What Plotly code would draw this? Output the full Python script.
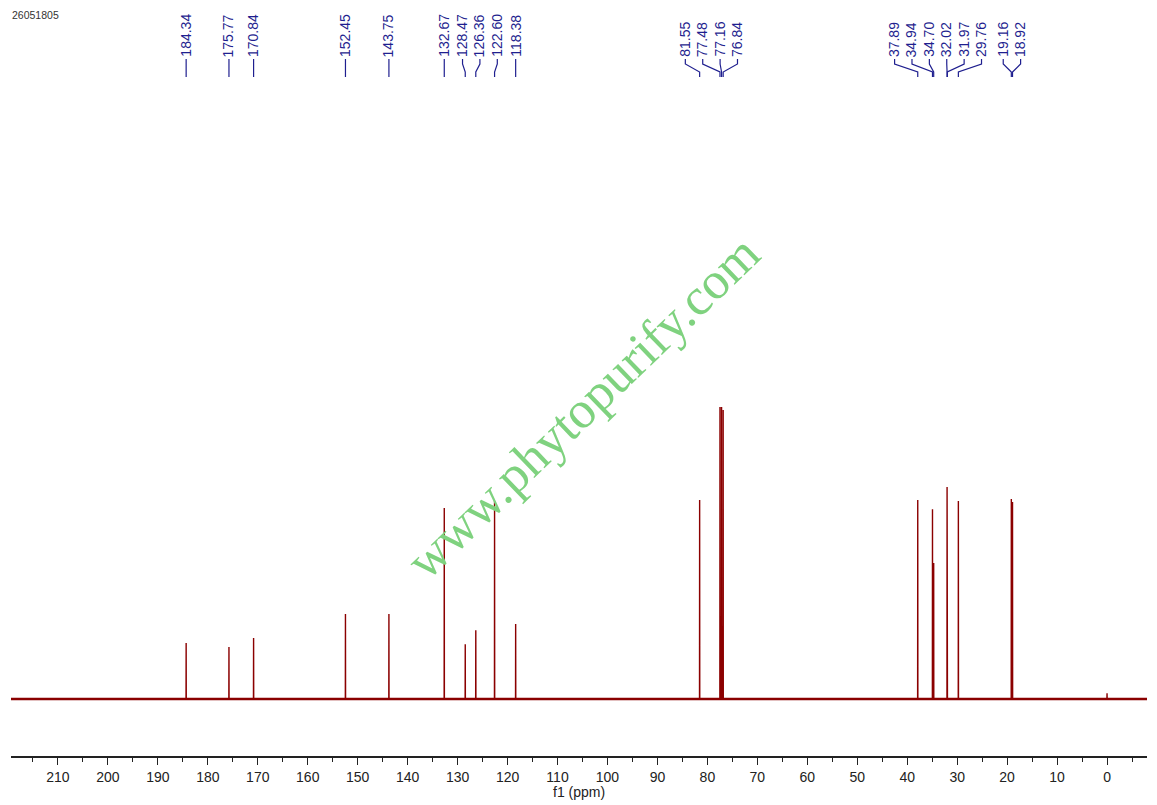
import plotly.graph_objects as go

# ---- data ----
peak_ppm = [184.34, 175.77, 170.84, 152.45, 143.75, 132.67, 128.47, 126.36, 122.60, 118.38,
            81.55, 77.48, 77.16, 76.84,
            37.89, 34.94, 34.70, 32.02, 31.97, 29.76, 19.16, 18.92]
peak_int = [19.2, 17.8, 20.9, 29.1, 29.1, 65.4, 18.8, 23.6, 67.8, 25.7,
            68.2, 100.0, 100.0, 99.0,
            68.2, 65.0, 46.6, 72.6, 50.0, 67.8, 68.5, 67.5]
minor_ppm = [0.0]
minor_int = [2.0]
peak_labels = ["%.2f" % p for p in peak_ppm]
sample_id = "26051805"
x_title = "f1 (ppm)"
watermark = "www.phytopurify.com"

X_RANGE = [219.4, -8.0]
Y_RANGE = [-19.5, 239.4]
RED = "#8b0000"
NAVY = "#1f1f8f"

# ---- build stick spectrum from the peak list ----
allp = sorted(zip(peak_ppm + minor_ppm, peak_int + minor_int), key=lambda t: -t[0])
eps = 0.024
sx, sy = [X_RANGE[0]], [0.0]
for p, h in allp:
    sx += [p + eps, p, p - eps]
    sy += [0.0, h, 0.0]
sx.append(X_RANGE[1]); sy.append(0.0)

fig = go.Figure()
fig.add_trace(go.Scatter(x=[X_RANGE[0], X_RANGE[1]], y=[0, 0], mode="lines",
                         line=dict(color=RED, width=2.6), hoverinfo="skip"))
fig.add_trace(go.Scatter(x=sx, y=sy, mode="lines", line=dict(color=RED, width=1.4),
                         hoverinfo="skip"))

# ---- label spreading (in ppm units) ----
gap = 3.48
order = sorted(range(len(peak_ppm)), key=lambda i: -peak_ppm[i])
clusters = [[i] for i in order]

def label_pos(cl):
    ps = [peak_ppm[i] for i in cl]
    c = (max(ps) + min(ps)) / 2
    n = len(cl)
    return [c + gap * ((n - 1) / 2 - k) for k in range(n)]

changed = True
while changed:
    changed = False
    for k in range(len(clusters) - 1):
        a = label_pos(clusters[k]); b = label_pos(clusters[k + 1])
        if a[-1] - b[0] < gap - 1e-6:
            clusters[k] = clusters[k] + clusters[k + 1]
            del clusters[k + 1]
            changed = True
            break

PLOT_TOP_PX = 0
PLOT_BOT_PX = 756
def py(px):
    return (PLOT_BOT_PX - px) / (PLOT_BOT_PX - PLOT_TOP_PX)

shapes = []
annotations = []
for cl in clusters:
    for i, lx in zip(cl, label_pos(cl)):
        p = peak_ppm[i]
        annotations.append(dict(x=lx, xref="x", y=py(59), yref="paper", text=peak_labels[i],
                                textangle=-90, showarrow=False, xanchor="center", yanchor="bottom",
                                font=dict(family="Liberation Sans, Arial", size=14, color=NAVY)))
        shapes.append(dict(type="path", xref="x", yref="paper",
                           path="M %f,%f L %f,%f L %f,%f L %f,%f" % (lx, py(59), lx, py(64), p, py(72), p, py(77)),
                           line=dict(color=NAVY, width=1.2)))

annotations.append(dict(x=-0.0005, xref="paper", y=py(15), yref="paper", text=sample_id,
                        showarrow=False, xanchor="left", yanchor="middle",
                        font=dict(family="Liberation Sans, Arial", size=10.5, color="#333333")))
annotations.append(dict(x=0.5, xref="paper", y=py(792), yref="paper", text=x_title,
                        showarrow=False, xanchor="center", yanchor="middle",
                        font=dict(family="Liberation Sans, Arial", size=14, color="#222222")))
annotations.append(dict(x=(582 - 11) / 1136, xref="paper", y=py(407), yref="paper", text=watermark,
                        showarrow=False, textangle=-44, xanchor="center", yanchor="middle",
                        font=dict(family="Liberation Serif, Times New Roman", size=52, color="#7fd27f")))

fig.update_layout(
    width=1157, height=805,
    margin=dict(l=11, r=10, t=PLOT_TOP_PX, b=805 - PLOT_BOT_PX),
    paper_bgcolor="white", plot_bgcolor="white",
    showlegend=False,
    shapes=shapes, annotations=annotations,
    xaxis=dict(range=X_RANGE, dtick=10, tick0=0, ticks="outside", ticklen=7, tickwidth=1.2,
               tickcolor="#222222", showline=True, linecolor="#222222", linewidth=1.5,
               showgrid=False, zeroline=False,
               tickfont=dict(family="Liberation Sans, Arial", size=14, color="#222222"),
               minor=dict(dtick=5, tick0=0, ticks="outside", ticklen=4, tickcolor="#222222", tickwidth=1.2)),
    yaxis=dict(range=Y_RANGE, visible=False, showgrid=False, zeroline=False),
)

fig.write_html("out.html", config={"displayModeBar": False},
               post_script="document.body.style.margin='0';")
